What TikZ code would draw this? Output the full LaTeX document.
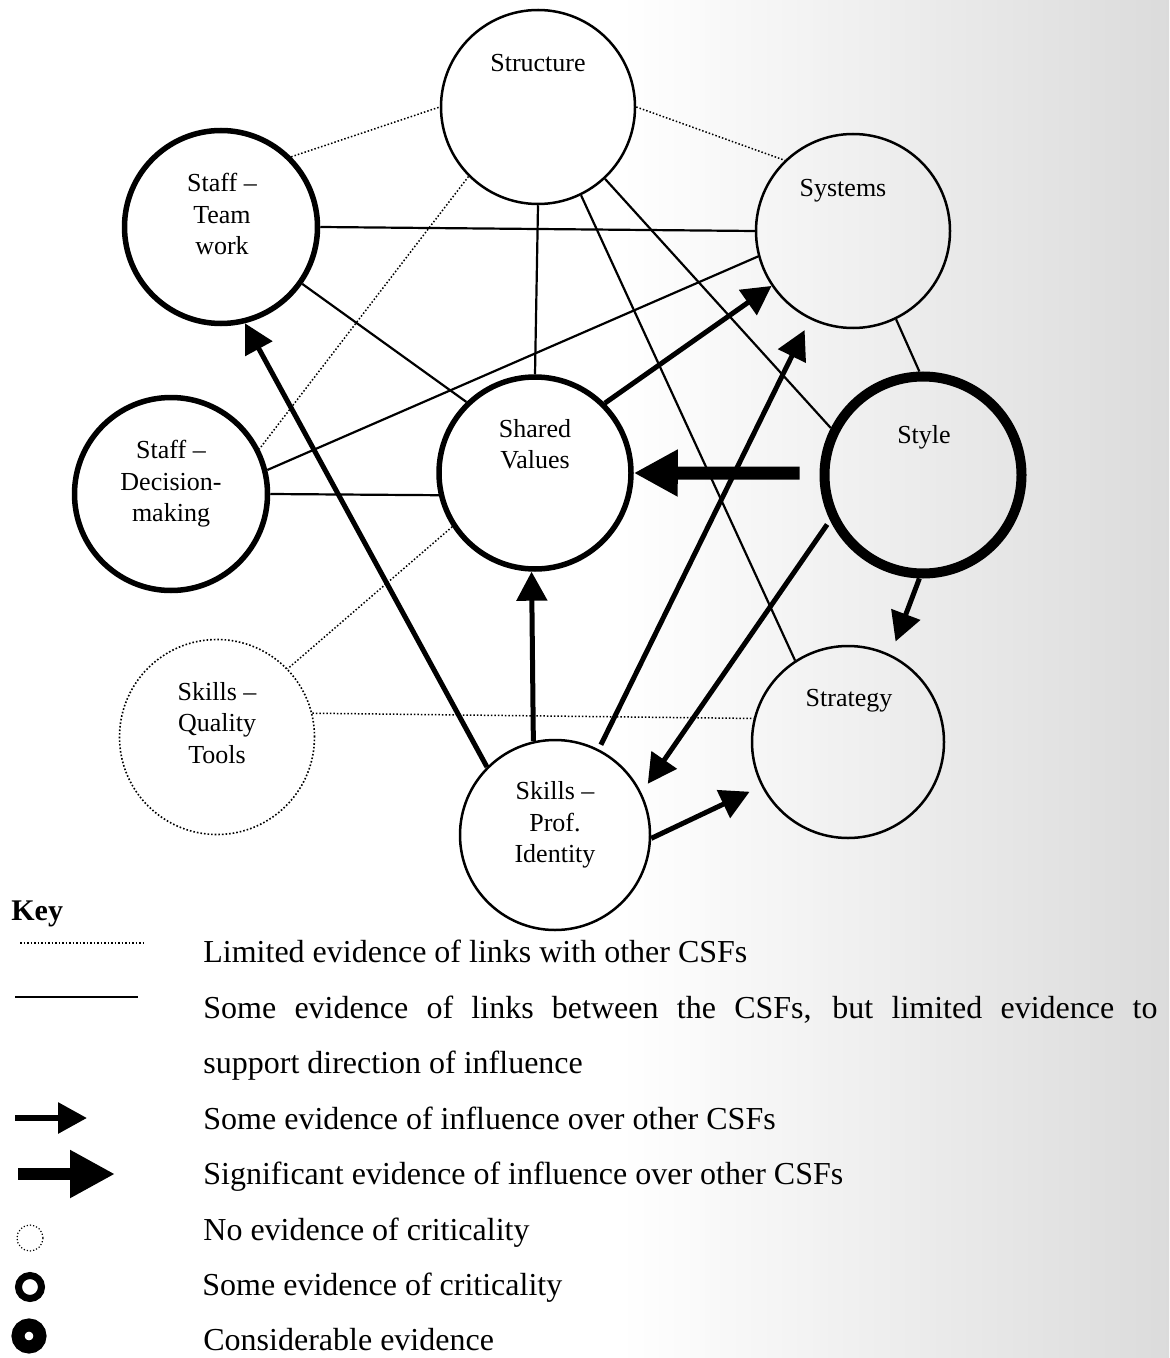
\documentclass[tikz,border=0pt]{standalone}
\usepackage{fontspec}
\setmainfont{Liberation Serif}
\usetikzlibrary{arrows.meta}

\begin{document}
\begin{tikzpicture}
[x=0.5pt,y=-0.5pt,
 every node/.style={font=\fontsize{13}{15.75}\selectfont},
 csf/.style={circle,draw,inner sep=0pt,line width=1.25pt,minimum size=#1},
 crit/.style={csf=#1,line width=2.75pt},
 topcrit/.style={csf=#1,line width=5pt},
 nocrit/.style={csf=#1,line width=0.8pt,densely dotted},
 lbl/.style={align=center,inner sep=0pt},
 limited/.style={line width=0.75pt,densely dotted},
 link/.style={line width=1.1pt},
 infl/.style={line width=2.5pt,-{Triangle[length=14.5pt,width=15pt]}},
 sig/.style={line width=6.5pt,-{Triangle[length=22pt,width=22pt]}},
 keytext/.style={anchor=base west,inner sep=0pt,font=\fontsize{16}{20}\selectfont}]
\useasboundingbox (0,0) rectangle (1169,1358);
\shade[left color=white,right color=black!14] (620,0) rectangle (1169,1358);

\node[csf=97pt] (struct) at (538,107) {};
\node[crit=96.5pt] (team) at (221,227) {};
\node[csf=97pt] (sys) at (853,231) {};
\node[crit=96.5pt] (dm) at (171,494) {};
\node[crit=96pt] (sv) at (535,473) {};
\node[topcrit=98.5pt] (style) at (923,475) {};
\node[nocrit=97.5pt] (qt) at (217,737) {};
\node[csf=96pt] (strat) at (848,742) {};
\node[csf=95pt] (pi) at (555,835) {};

\node[lbl,anchor=base] (struct-l) at (538,72) {Structure};
\node[lbl,anchor=base] (sys-l) at (843,197) {Systems};
\node[lbl,anchor=base] (style-l) at (924,443) {Style};
\node[lbl,anchor=base] (strat-l) at (849,706) {Strategy};
\node[lbl] (team-l) at (222,214) {Staff --\\Team\\work};
\node[lbl] (dm-l) at (171,484) {Staff --\\Decision-\\making};
\node[lbl] (sv-l) at (535,444) {Shared\\Values};
\node[lbl] (qt-l) at (217,723) {Skills --\\Quality\\Tools};
\node[lbl] (pi-l) at (555,825) {Skills --\\Prof.\\Identity};

\foreach \from/\to in {team.45/struct.180,struct.225/dm.27,struct.0/sys.134,sv.213/qt.44,qt.14/strat.166}
\draw[limited] (\from) -- (\to);
\foreach \from/\to in {team.0/sys.180,team.-35/sv.134,struct.-90/sv.90,dm.14/sys.195,dm.0/sv.193,struct.-47/style.153,struct.-64/strat.123,sys.-64/style.92}
\draw[link] (\from) -- (\to);
\foreach \from/\to/\a/\b in {pi.135/team.-76/0/0,pi.103/sv.-92/0/0,sv.45/sys.214/0/0,pi.63/sys.244/2.5/6,style.206/pi.26/2.5/5.5,style.-92/strat.64/0/7,pi.-2/strat.207/0/6.5}
\draw[infl,shorten <=\a pt,shorten >=\b pt] (\from) -- (\to);
\draw[sig,shorten <=10pt] (style.179) -- (sv.0);

\node[keytext,font=\bfseries\fontsize{15}{18}\selectfont] (key) at (11,920) {Key};
\coordinate (lim-a) at (20,943);
\coordinate (lim-b) at (143,943);
\coordinate (link-a) at (15,997);
\coordinate (link-b) at (138,997);
\coordinate (inf-a) at (15,1118);
\coordinate (inf-b) at (87,1118);
\coordinate (sig-a) at (18,1174);
\coordinate (sig-b) at (115,1174);
\draw[limited,line width=0.6pt] (lim-a) -- (lim-b);
\draw[link] (link-a) -- (link-b);
\draw[line width=3pt,-{Triangle[length=14.5pt,width=15pt]}] (inf-a) -- (inf-b);
\draw[line width=6pt,-{Triangle[length=22.5pt,width=22.5pt]}] (sig-a) -- (sig-b);
\draw[line width=0.6pt,densely dotted] (30,1238) circle (6.5pt);
\draw[line width=3.5pt] (30,1287) circle (5.75pt);
\draw[line width=6.5pt] (29,1336) circle (5.5pt);

\node[keytext] (k-lim) at (203,962) {Limited evidence of links with other CSFs};
\node[keytext] (k-link) at (203,1018) {\makebox[477pt][s]{Some evidence of links between the CSFs, but limited evidence to}};
\node[keytext] (k-link2) at (203,1073) {support direction of influence};
\node[keytext] (k-inf) at (203,1129) {Some evidence of influence over other CSFs};
\node[keytext] (k-sig) at (203,1184) {Significant evidence of influence over other CSFs};
\node[keytext] (k-none) at (203,1240) {No evidence of criticality};
\node[keytext] (k-some) at (202,1295) {Some evidence of criticality};
\node[keytext] (k-cons) at (203,1350) {Considerable evidence};
\end{tikzpicture}
\end{document}
